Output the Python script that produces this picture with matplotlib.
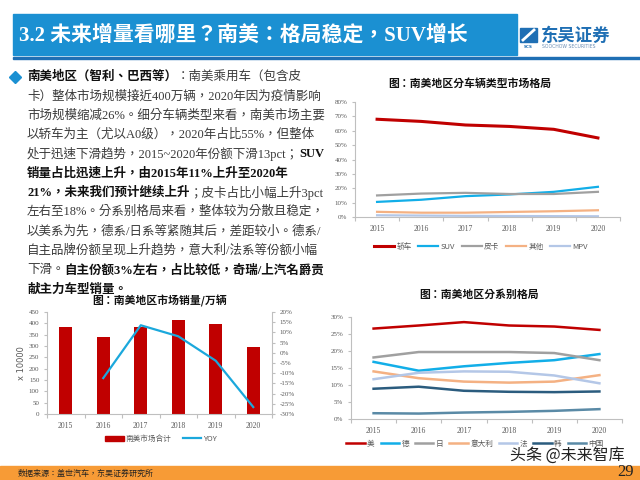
import numpy as np
import matplotlib
matplotlib.use("Agg")
import matplotlib.pyplot as plt
from matplotlib.patches import Rectangle, Patch
from matplotlib.lines import Line2D
from matplotlib.ticker import PercentFormatter

W, H = 640, 480

# ---- data ----
years = ["2015", "2016", "2017", "2018", "2019", "2020"]

# 分车辆类型 (share)
sedan = [0.68, 0.665, 0.64, 0.63, 0.61, 0.55]
suv = [0.105, 0.12, 0.145, 0.157, 0.175, 0.21]
pickup = [0.15, 0.163, 0.168, 0.16, 0.16, 0.175]
other = [0.036, 0.03, 0.03, 0.035, 0.04, 0.047]
mpv = [0.012, 0.01, 0.008, 0.007, 0.006, 0.005]

# 市场销量 (万辆) and YOY (%)
sales = [384, 338, 382, 415, 397, 294]
yoy = [np.nan, -12.4, 13.5, 8.1, -3.9, -26.6]

# 分系别 (share)
us = [0.266, 0.275, 0.285, 0.275, 0.272, 0.262]
de = [0.168, 0.142, 0.155, 0.165, 0.173, 0.191]
jp = [0.181, 0.197, 0.197, 0.197, 0.194, 0.173]
it = [0.14, 0.12, 0.11, 0.107, 0.11, 0.129]
fr = [0.117, 0.136, 0.14, 0.139, 0.128, 0.105]
kr = [0.089, 0.095, 0.083, 0.08, 0.079, 0.081]
cn = [0.017, 0.016, 0.019, 0.021, 0.024, 0.029]

body_lines = [
    [("南美地区（智利、巴西等）", True), ("：南美乘用车（包含皮", False)],
    [("卡）整体市场规模接近400万辆，2020年因为疫情影响", False)],
    [("市场规模缩减26%。细分车辆类型来看，南美市场主要", False)],
    [("以轿车为主（尤以A0级），2020年占比55%，但整体", False)],
    [("处于迅速下滑趋势，2015~2020年份额下滑13pct；", False), ("SUV", True)],
    [("销量占比迅速上升，由2015年11%上升至2020年", True)],
    [("21%，未来我们预计继续上升", True), ("；皮卡占比小幅上升3pct", False)],
    [("左右至18%。分系别格局来看，整体较为分散且稳定，", False)],
    [("以美系为先，德系/日系等紧随其后，差距较小。德系/", False)],
    [("自主品牌份额呈现上升趋势，意大利/法系等份额小幅", False)],
    [("下滑。", False), ("自主份额3%左右，占比较低，奇瑞/上汽名爵贡", True)],
    [("献主力车型销量。", True)],
]

MIX = ["Liberation Serif", "Noto Sans CJK TC", "DejaVu Sans"]
CJK = ["Noto Sans CJK TC", "DejaVu Sans"]
GRAY = "#595959"
SPINE = "#bfbfbf"
BLUE = "#1b90d2"
RED = "#c00000"
CYAN = "#1ba8dc"

plt.rcParams["font.family"] = CJK
plt.rcParams["axes.unicode_minus"] = False


def box(x0, y0, x1, y1):
    return [x0 / W, 1 - y1 / H, (x1 - x0) / W, (y1 - y0) / H]


def fx(x):
    return x / W


def fy(y):
    return 1 - y / H


fig = plt.figure(figsize=(6.4, 4.8), dpi=100)
fig.patch.set_facecolor("white")

# header
fig.patches.append(Rectangle((fx(13), fy(55)), (517 - 13) / W, 41 / H,
                             transform=fig.transFigure, color=BLUE, zorder=0))
fig.text(fx(19), fy(35), "3.2 未来增量看哪里？南美：格局稳定，SUV增长", color="white",
         fontsize=15, fontweight="bold", family=MIX, va="center", ha="left")
fig.patches.append(Rectangle((fx(13), fy(59)), (640 - 13) / W, 2 / H,
                             transform=fig.transFigure, color="#1f6fb4", zorder=0))
# logo
fig.patches.append(Rectangle((fx(520), fy(42)), 17 / W, 14 / H,
                             transform=fig.transFigure, color="#1f6fb4"))
fig.add_artist(Line2D([fx(523), fx(534)], [fy(40), fy(30)], transform=fig.transFigure,
                      color="white", lw=2))
fig.text(fx(528.5), fy(46.5), "SCS", fontsize=3, color="#1f6fb4", ha="center",
         va="center", fontweight="bold", family=["DejaVu Sans"])
fig.text(fx(541), fy(36), "东吴证券", fontsize=12.5, fontweight="bold", color="#1f6fb4",
         va="center", ha="left")
fig.text(fx(542), fy(47), "SOOCHOW SECURITIES", fontsize=3.3, color="#6d8fb5",
         va="center", ha="left", family=["DejaVu Sans"])

# body text
fig.add_artist(Line2D([fx(15)], [fy(77)], marker="D", markersize=6, color=BLUE,
                      transform=fig.transFigure))
renderer = fig.canvas.get_renderer()
for i, segs in enumerate(body_lines):
    x = 27
    y = 77 + i * 19.3
    for s, b in segs:
        t = fig.text(fx(x), fy(y), s, fontsize=9, family=MIX,
                     fontweight="bold" if b else "normal",
                     color="#111111" if b else "#3a3a3a", va="center", ha="left")
        x += t.get_window_extent(renderer).width


def style_axes(ax):
    for side in ["top", "right"]:
        ax.spines[side].set_visible(False)
    for side in ["left", "bottom"]:
        ax.spines[side].set_color(SPINE)
        ax.spines[side].set_linewidth(0.8)
    ax.set_xlim(-0.5, 5.5)
    ax.set_xticks(range(6))
    ax.set_xticklabels(years, family=["Liberation Serif"], fontsize=5.5, color=GRAY)
    ax.set_xticks(np.arange(-0.5, 6, 1), minor=True)
    ax.tick_params(axis="x", which="major", length=0, pad=6)
    ax.tick_params(axis="x", which="minor", length=3, color=SPINE, width=0.8)
    ax.tick_params(axis="y", length=2, color=SPINE, width=0.8, labelsize=5, labelcolor=GRAY)
    for lab in ax.get_yticklabels():
        lab.set_family(["Liberation Serif"])
    ax.set_facecolor("none")


# chart 1: vehicle types
ax1 = fig.add_axes(box(355, 102, 620, 217))
xs = np.arange(6)
ax1.plot(xs, sedan, color=RED, lw=2.2, label="轿车")
ax1.plot(xs, suv, color="#12aee8", lw=1.6, label="SUV")
ax1.plot(xs, pickup, color="#a0a0a0", lw=1.6, label="皮卡")
ax1.plot(xs, other, color="#f4b183", lw=1.6, label="其他")
ax1.plot(xs, mpv, color="#b4c7e7", lw=1.6, label="MPV")
ax1.set_ylim(0, 0.8)
ax1.set_yticks(np.arange(0, 0.81, 0.1))
ax1.yaxis.set_major_formatter(PercentFormatter(1.0, decimals=0))
style_axes(ax1)
fig.text(fx(470), fy(84), "图：南美地区分车辆类型市场格局", fontsize=7.8, fontweight="bold",
         ha="center", va="center", color="#111111")
fig.legend(*ax1.get_legend_handles_labels(), loc="center", bbox_to_anchor=(fx(481), fy(247)),
           ncol=5, frameon=False, fontsize=5.5, handlelength=2.6, columnspacing=0.9,
           handletextpad=0.3, labelcolor=GRAY)

# chart 2: sales + yoy
ax2 = fig.add_axes(box(47, 312, 272, 414))
ax2.bar(xs, sales, width=0.35, color=RED, label="南美市场合计")
ax2.set_ylim(0, 450)
ax2.set_yticks(np.arange(0, 451, 50))
style_axes(ax2)
ax2.set_ylabel("x 10000", fontsize=6, color=GRAY, family=["DejaVu Sans"], labelpad=2)
ax2r = ax2.twinx()
ax2r.plot(xs, yoy, color=CYAN, lw=1.6, label="YOY")
ax2r.set_ylim(-30, 20)
ax2r.set_yticks(np.arange(-30, 21, 5))
ax2r.yaxis.set_major_formatter(PercentFormatter(100, decimals=0))
for side in ["top", "left", "bottom"]:
    ax2r.spines[side].set_visible(False)
ax2r.spines["right"].set_color(SPINE)
ax2r.spines["right"].set_linewidth(0.8)
ax2r.tick_params(axis="y", length=2, color=SPINE, width=0.8, labelsize=5, labelcolor=GRAY)
for lab in ax2r.get_yticklabels():
    lab.set_family(["Liberation Serif"])
fig.text(fx(160), fy(301), "图：南美地区市场销量/万辆", fontsize=7.8, fontweight="bold",
         ha="center", va="center", color="#111111")
h_bar = Patch(color=RED, label="南美市场合计")
h_line = Line2D([], [], color=CYAN, lw=1.6, label="YOY")
fig.legend([h_bar, h_line], ["南美市场合计", "YOY"], loc="center",
           bbox_to_anchor=(fx(161), fy(439)), ncol=2, frameon=False, fontsize=5.5,
           handlelength=2.4, handleheight=0.6, columnspacing=1.6, handletextpad=0.2,
           labelcolor=GRAY)

# chart 3: brand origin
ax3 = fig.add_axes(box(351, 317, 622, 419))
ax3.plot(xs, us, color=RED, lw=1.8, label="美")
ax3.plot(xs, de, color="#12aee8", lw=1.8, label="德")
ax3.plot(xs, jp, color="#a0a0a0", lw=1.8, label="日")
ax3.plot(xs, it, color="#f4b183", lw=1.8, label="意大利")
ax3.plot(xs, fr, color="#b4c7e7", lw=1.8, label="法")
ax3.plot(xs, kr, color="#2b5c7e", lw=1.8, label="韩")
ax3.plot(xs, cn, color="#5a8aa6", lw=1.8, label="中国")
ax3.set_ylim(0, 0.30)
ax3.set_yticks(np.arange(0, 0.301, 0.05))
ax3.yaxis.set_major_formatter(PercentFormatter(1.0, decimals=0))
style_axes(ax3)
fig.text(fx(479), fy(295), "图：南美地区分系别格局", fontsize=7.8, fontweight="bold",
         ha="center", va="center", color="#111111")
fig.legend(*ax3.get_legend_handles_labels(), loc="center", bbox_to_anchor=(fx(475), fy(444)),
           ncol=7, frameon=False, fontsize=5.5, handlelength=2.4, columnspacing=0.8,
           handletextpad=0.3, labelcolor=GRAY)

# footer
fig.patches.append(Rectangle((0, 0), 1, 14 / H, transform=fig.transFigure,
                             color="#f79b36", zorder=0))
fig.text(fx(18), fy(473.5), "数据来源：盖世汽车，东吴证券研究所", fontsize=5.8, color="#222222",
         va="center", ha="left")
fig.text(fx(634), fy(472), "29", fontsize=12, color="#222222", family=["Liberation Serif"],
         va="center", ha="right")
fig.text(fx(567), fy(455), "头条 @未来智库", fontsize=11.5, color="#222222",
         va="center", ha="center", fontweight="light")

fig.savefig("out.png", dpi=100)
